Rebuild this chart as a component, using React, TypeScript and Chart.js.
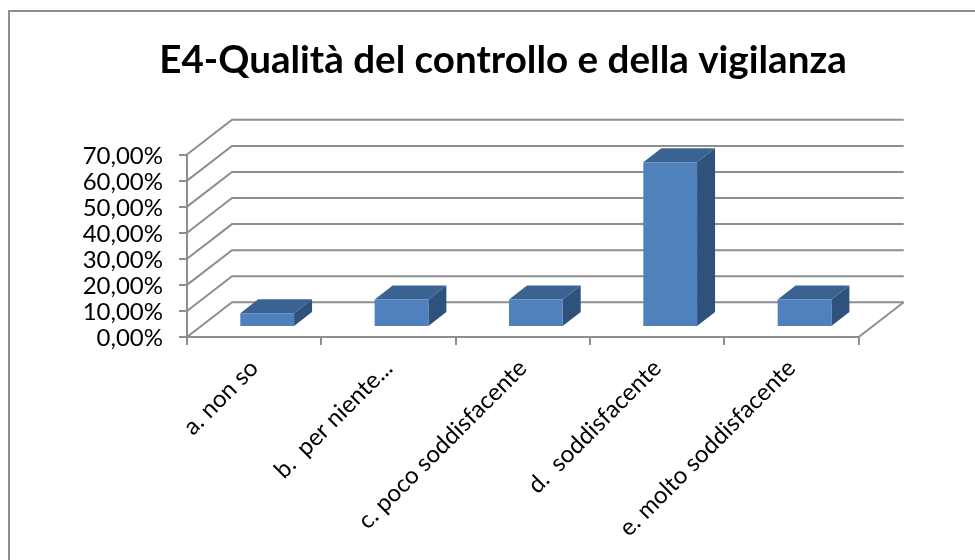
import React, { useEffect, useRef } from "react";
import { Chart, registerables } from "chart.js";

Chart.register(...registerables);

const titleText = "E4-Qualità del controllo e della vigilanza";
const categories = [
  "a. non so",
  "b.  per niente...",
  "c. poco soddisfacente",
  "d.  soddisfacente",
  "e. molto soddisfacente",
];
const percentages = [5.26, 10.53, 10.53, 63.16, 10.53];

const FONT = "Lato, Carlito, sans-serif";
const GRID = "#8e8e8e";
const FRONT = "#4f81bd";
const TOP = "#3b6391";
const SIDE = "#2f527c";
const BACK_DX = 45;
const BACK_DY = -34.7;
const BAR_OFF_X = 13;
const BAR_OFF_Y = -10;
const BAR_DX = 18;
const BAR_DY = -14;

const poly = (ctx: CanvasRenderingContext2D, pts: number[][], fill: string) => {
  ctx.beginPath();
  pts.forEach(([x, y], i) => (i ? ctx.lineTo(x, y) : ctx.moveTo(x, y)));
  ctx.closePath();
  ctx.fillStyle = fill;
  ctx.fill();
};

const threeD = {
  id: "threeD",
  afterLayout(chart: any) {
    // Title is centred over the frame, not over the plot box.
    chart.titleBlock.right = chart.width;
  },
  beforeDraw(chart: any) {
    const { ctx, width, height } = chart;
    ctx.save();
    ctx.strokeStyle = GRID;
    ctx.lineWidth = 2;
    ctx.beginPath();
    ctx.moveTo(9, height);
    ctx.lineTo(9, 11);
    ctx.lineTo(width, 11);
    ctx.stroke();
    ctx.restore();
  },
  beforeDatasetsDraw(chart: any) {
    const { ctx, chartArea, scales } = chart;
    const { left, right, bottom } = chartArea;
    ctx.save();
    ctx.strokeStyle = GRID;
    ctx.lineWidth = 2;
    scales.y.ticks.forEach((t: any) => {
      const y = scales.y.getPixelForValue(t.value);
      ctx.beginPath();
      ctx.moveTo(left, y);
      ctx.lineTo(left + BACK_DX, y + BACK_DY);
      ctx.lineTo(right + BACK_DX, y + BACK_DY);
      ctx.stroke();
    });
    ctx.beginPath();
    ctx.moveTo(right, bottom);
    ctx.lineTo(right + BACK_DX, bottom + BACK_DY);
    ctx.stroke();
    const meta = chart.getDatasetMeta(0);
    ctx.translate(BAR_OFF_X, BAR_OFF_Y);
    meta.data.forEach((bar: any) => {
      const l = bar.x - bar.width / 2;
      const r = bar.x + bar.width / 2;
      poly(ctx, [[r, bar.y], [r + BAR_DX, bar.y + BAR_DY], [r + BAR_DX, bar.base + BAR_DY], [r, bar.base]], SIDE);
      poly(ctx, [[l, bar.y], [l + BAR_DX, bar.y + BAR_DY], [r + BAR_DX, bar.y + BAR_DY], [r, bar.y]], TOP);
    });
    ctx.restore();
    ctx.save();
    ctx.translate(BAR_OFF_X, BAR_OFF_Y);
  },
  afterDatasetsDraw(chart: any) {
    chart.ctx.restore();
  },
};

export default function App() {
  const ref = useRef<HTMLCanvasElement>(null);
  useEffect(() => {
    const chart = new Chart(ref.current!, {
      type: "bar",
      data: {
        labels: categories,
        datasets: [
          {
            data: percentages,
            backgroundColor: FRONT,
            categoryPercentage: 1,
            barPercentage: 0.4,
            clip: false,
          } as any,
        ],
      },
      plugins: [threeD],
      options: {
        responsive: false,
        animation: false,
        layout: {
          autoPadding: false,
          padding: { left: 31, right: 116.3, top: 0, bottom: 0 },
        },
        plugins: {
          legend: { display: false },
          tooltip: { enabled: false },
          title: {
            display: true,
            text: titleText,
            color: "#000000",
            font: { family: FONT, size: 38.6, weight: "bold", lineHeight: 1.2 },
            padding: { top: 37, bottom: 71.2 },
          },
        },
        scales: {
          x: {
            afterFit: (s: any) => {
              s.height = 223;
            },
            grid: { drawOnChartArea: false, color: GRID, lineWidth: 2, tickLength: 8 },
            border: { color: GRID, width: 2 },
            ticks: {
              autoSkip: false,
              minRotation: 45,
              maxRotation: 45,
              color: "#000000",
              padding: 9,
              font: { family: FONT, size: 24 },
            },
          },
          y: {
            min: 0,
            max: 70,
            afterFit: (s: any) => {
              s.width = 156;
            },
            grid: { drawOnChartArea: false, color: GRID, lineWidth: 2, tickLength: 8 },
            border: { color: GRID, width: 2 },
            ticks: {
              stepSize: 10,
              autoSkip: false,
              color: "#000000",
              padding: 16,
              labelOffset: 1.5,
              font: { family: FONT, size: 24 },
              callback: (v: any) => Number(v).toFixed(2).replace(".", ",") + "%",
            },
          },
        },
      } as any,
    });
    return () => chart.destroy();
  }, []);
  return (
    <div style={{ position: "absolute", left: 0, top: 0, width: 975, height: 560, background: "#fff" }}>
      <canvas ref={ref} width={975} height={560} style={{ display: "block" }} />
    </div>
  );
}
